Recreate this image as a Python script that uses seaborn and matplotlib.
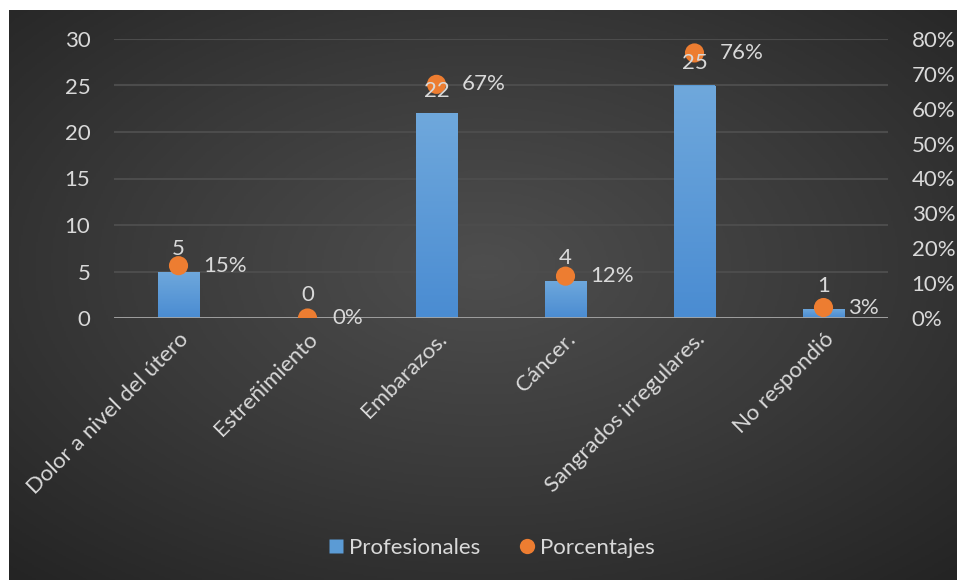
import numpy as np
import pandas as pd
import matplotlib
matplotlib.use("Agg")
import matplotlib.pyplot as plt
from matplotlib.lines import Line2D
from matplotlib.colors import LinearSegmentedColormap
import seaborn as sns

categorias = ["Dolor a nivel del útero", "Estreñimiento", "Embarazos.",
              "Cáncer.", "Sangrados irregulares.", "No respondió"]
profesionales = [5, 0, 22, 4, 25, 1]
porcentajes = [0.15, 0.00, 0.67, 0.12, 0.76, 0.03]
ticks_izq = [0, 5, 10, 15, 20, 25, 30]
ticks_der = [0.0, 0.1, 0.2, 0.3, 0.4, 0.5, 0.6, 0.7, 0.8]

df = pd.DataFrame({"categoria": categorias,
                   "profesionales": profesionales,
                   "porcentaje": porcentajes})

sns.set_theme(style="white")
plt.rcParams["font.family"] = ["Lato", "DejaVu Sans"]

TXT = "#d9d9d9"
AZUL = "#5b9bd5"
NARANJA = "#ed7d31"
FS = 16

W, H = 957, 580
fig = plt.figure(figsize=(W / 100, H / 100), dpi=100, facecolor="white")

# dark radial-gradient panel behind the chart
bg = fig.add_axes([9 / W, 0, 1 - 9 / W, 1 - 10 / H])
bg.set_axis_off()
yy, xx = np.mgrid[0:1:300j, 0:1:500j]
r = np.sqrt(((xx - 0.5) / 0.75) ** 2 + ((yy - 0.45) / 0.75) ** 2)
r = np.clip(r / r.max(), 0, 1)
cmap_bg = LinearSegmentedColormap.from_list("bg", ["#4e4e4e", "#3a3a3a", "#242424"])
bg.imshow(r, cmap=cmap_bg, aspect="auto", extent=[0, 1, 0, 1], origin="upper")
bg.set_xlim(0, 1)
bg.set_ylim(0, 1)

left, right = 114 / W, 888 / W
bottom, top = 1 - 318 / H, 1 - 39 / H
ax = fig.add_axes([left, bottom, right - left, top - bottom])
ax.set_facecolor("none")

sns.barplot(data=df, x="categoria", y="profesionales", ax=ax,
            color=AZUL, width=0.32, saturation=1, edgecolor="none", zorder=3)

# vertical shading inside each bar
grad = np.linspace(0, 1, 100).reshape(-1, 1)
cmap_bar = LinearSegmentedColormap.from_list("bar", ["#6fa8dc", "#4a8cd2"])
for p in ax.patches:
    x0, y0 = p.get_x(), p.get_y()
    w, h = p.get_width(), p.get_height()
    if h <= 0:
        continue
    im = ax.imshow(grad, cmap=cmap_bar, aspect="auto", zorder=3.5,
                   extent=[x0, x0 + w, y0, y0 + h], origin="upper")
    im.set_clip_path(p)

ax.set_xlim(-0.5, len(categorias) - 0.5)
ax.set_ylim(0, 30)
ax.set_yticks(ticks_izq)
ax.set_yticklabels([str(t) for t in ticks_izq])
ax.grid(axis="y", color="#4c4c4c", linewidth=1.5, zorder=0)
ax.set_axisbelow(True)
for s in ax.spines.values():
    s.set_visible(False)
ax.axhline(0, color="#a6a6a6", linewidth=2, zorder=4)
ax.set_xlabel("")
ax.set_ylabel("")
ax.tick_params(axis="y", length=0, pad=17, labelsize=FS, labelcolor=TXT)
ax.tick_params(axis="x", length=0, pad=8, labelsize=FS, labelcolor=TXT)
for lab in ax.get_xticklabels():
    lab.set_rotation(45)
    lab.set_ha("right")
    lab.set_va("top")
    lab.set_rotation_mode("anchor")

ax2 = ax.twinx()
ax2.set_facecolor("none")
pos = np.arange(len(categorias))
sns.scatterplot(x=pos, y=df["porcentaje"], ax=ax2, color=NARANJA, s=190,
                edgecolor="none", zorder=5, legend=False)
ax2.set_xlim(-0.5, len(categorias) - 0.5)
ax2.set_ylim(0, 0.8)
ax2.set_yticks(ticks_der)
ax2.set_yticklabels([f"{int(round(t * 100))}%" for t in ticks_der])
ax2.set_ylabel("")
ax2.tick_params(axis="y", length=0, pad=17, labelsize=FS, labelcolor=TXT)
for s in ax2.spines.values():
    s.set_visible(False)

# count labels sit above the bars (and over the markers)
for i, v in enumerate(profesionales):
    ax2.annotate(str(v), (i, v), xycoords=ax.transData, xytext=(0, 12),
                 textcoords="offset points", ha="center", va="baseline",
                 fontsize=FS, color=TXT, zorder=7)
for i, v in enumerate(porcentajes):
    ax2.annotate(f"{int(round(v * 100))}%", (i, v), xytext=(18, 0),
                 textcoords="offset points", ha="left", va="center",
                 fontsize=FS, color=TXT, zorder=6)

handles = [Line2D([], [], marker="s", linestyle="none", markersize=10,
                  markerfacecolor=AZUL, markeredgecolor="none"),
           Line2D([], [], marker="o", linestyle="none", markersize=11,
                  markerfacecolor=NARANJA, markeredgecolor="none")]
fig.legend(handles, ["Profesionales", "Porcentajes"], loc="center",
           bbox_to_anchor=(490 / W, 1 - 548 / H), ncol=2, frameon=False,
           fontsize=FS, labelcolor=TXT, handletextpad=0.1, columnspacing=1.6,
           handlelength=1.0)

fig.savefig("out.png", dpi=100, facecolor="white")
